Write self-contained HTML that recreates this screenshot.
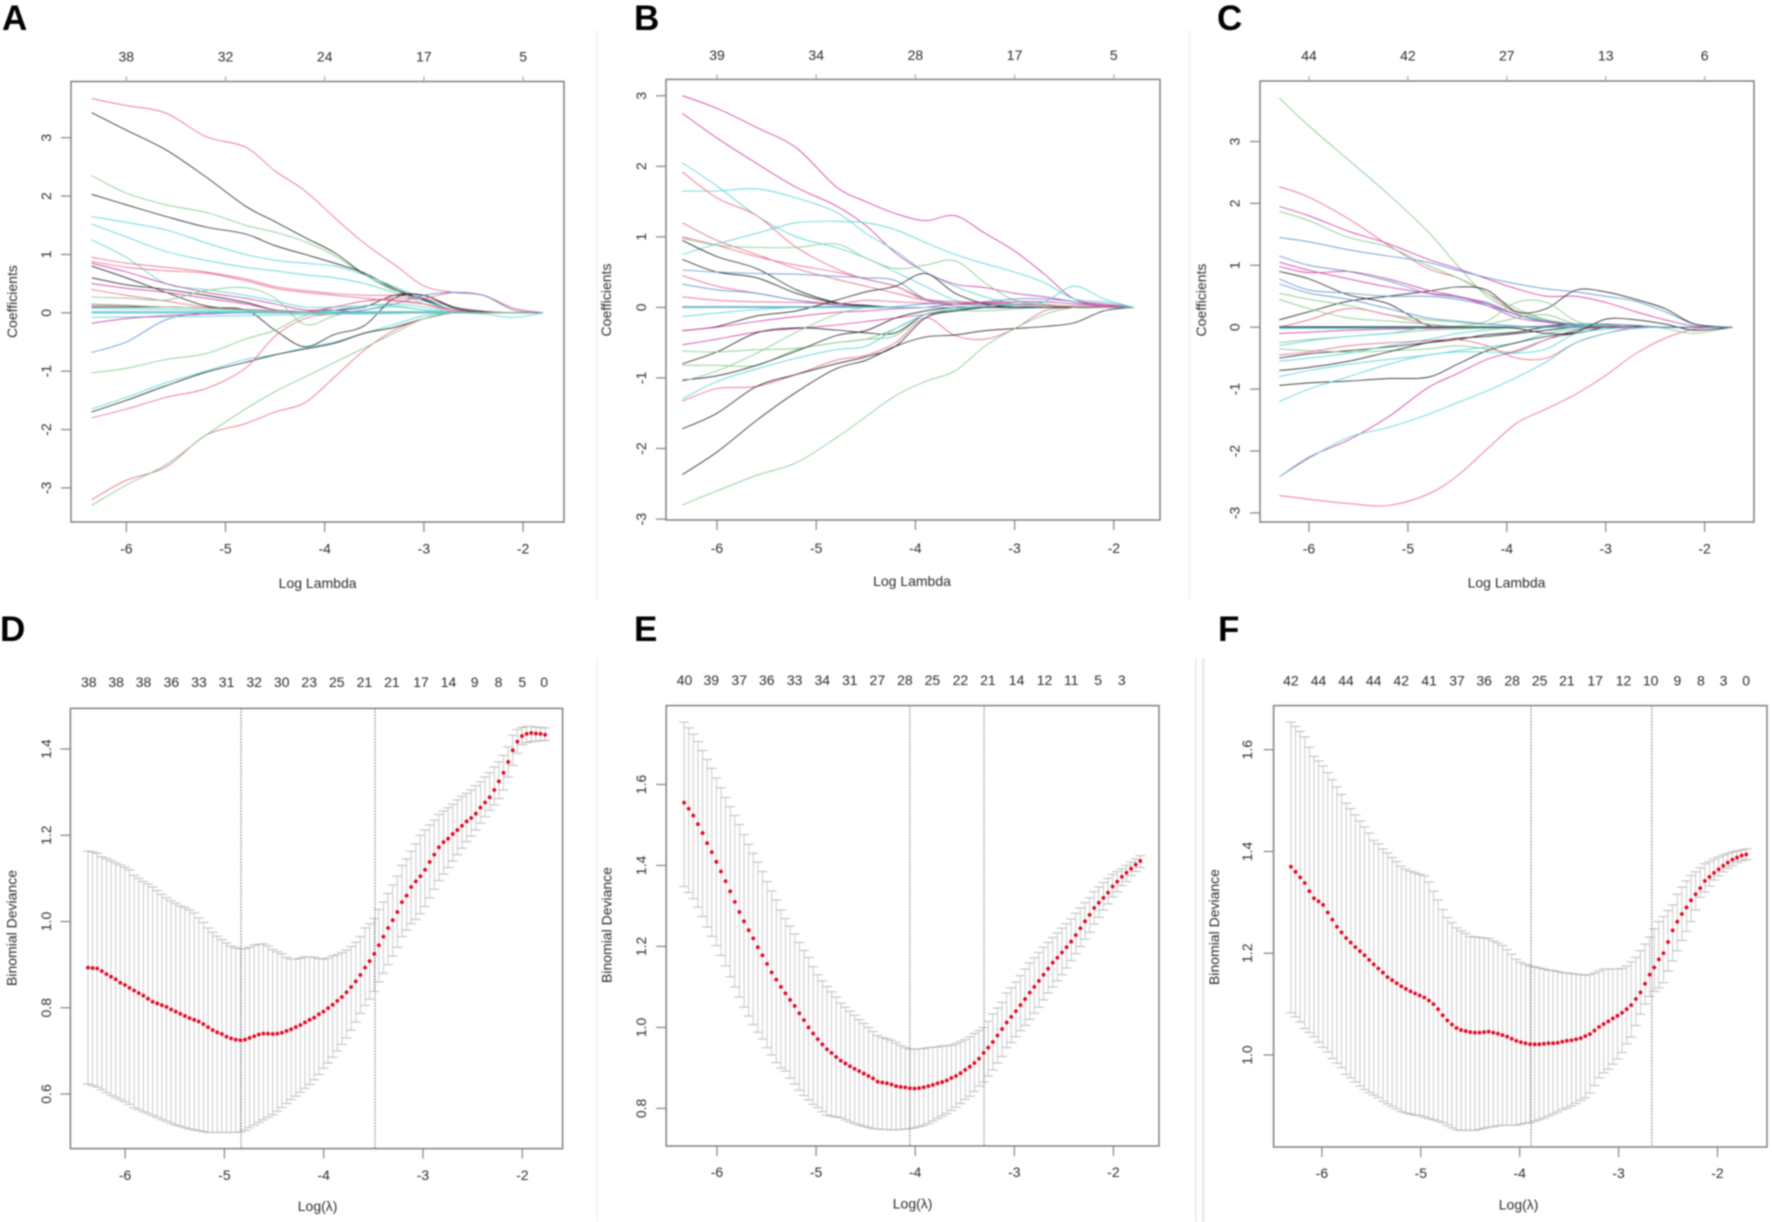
<!DOCTYPE html>
<html lang="en">
<head>
<meta charset="utf-8">
<title>LASSO coefficient paths and cross-validation curves</title>
<style>
html,body{margin:0;padding:0;background:#fff;width:1772px;height:1222px;overflow:hidden}
svg{display:block;filter:blur(.7px)}
text{font-family:"Liberation Sans",Arial,sans-serif;font-size:14px;fill:#2c2c2c;text-anchor:middle;dominant-baseline:central}
text.letter{font-size:35px;font-weight:700;fill:#000;text-anchor:start;dominant-baseline:auto}
</style>
</head>
<body>
<svg id="figure" xmlns="http://www.w3.org/2000/svg" width="1772" height="1222" viewBox="0 0 1772 1222">
  <rect x="0" y="0" width="1772" height="1222" fill="#fff"/>
  <rect x="596.5" y="30" width="1.2" height="570" fill="#eee"/>
  <rect x="1189" y="30" width="1.2" height="570" fill="#eee"/>
  <rect x="596.5" y="658" width="1.2" height="564" fill="#eee"/>
  <rect x="1195" y="658" width="1.5" height="564" fill="#e8e8e8"/>
  <rect x="1202" y="658" width="2.5" height="564" fill="#e8e8e8"/>
  <text class="letter" x="2" y="30">A</text>
  <text class="letter" x="634" y="30">B</text>
  <text class="letter" x="1217" y="30">C</text>
  <text class="letter" x="0" y="641">D</text>
  <text class="letter" x="634" y="641">E</text>
  <text class="letter" x="1218" y="641">F</text>
</svg>
<script>
// ---------- Coefficient path data ----------
const gridAB = [-6.35,-6,-5.6,-5.2,-4.8,-4.5,-4.2,-3.9,-3.6,-3.3,-3,-2.7,-2.4,-2.1,-1.8];
const gridC = [-6.3,-6,-5.6,-5.2,-4.8,-4.5,-4.2,-3.9,-3.6,-3.3,-3,-2.7,-2.4,-2.1,-1.72];
const coefXTicks = [-6,-5,-4,-3,-2];
const coefYTicks = [-3,-2,-1,0,1,2,3];
const topLabelsA = ['38','32','24','17','5'];
const topLabelsB = ['39','34','28','17','5'];
const topLabelsC = ['44','42','27','13','6'];

const seriesA = [
[3.67,3.55,3.42,3.02,2.84,2.43,2.09,1.63,1.19,.83,.46,.35,.3,.08,0],
[3.43,3.13,2.79,2.33,1.83,1.56,1.29,1.03,.66,.39,.23,.05,.01,0,0],
[2.35,2.05,1.85,1.72,1.5,1.38,1.22,.98,.65,.4,.15,.05,0,0,0],
[2.03,1.85,1.65,1.47,1.35,1.15,1,.85,.68,.42,.22,.05,.02,0,0],
[1.65,1.55,1.42,1.2,1,.9,.85,.8,.65,.45,.25,.05,.02,0,0],
[1.52,1.3,1.05,.9,.78,.72,.65,.6,.5,.35,.2,.05,0,0,0],
[1.25,.95,.5,.4,.3,.2,.1,.1,.12,.15,.1,0,0,0,0],
[.95,.85,.78,.7,.58,.45,.38,.33,.3,.3,.25,.1,.03,0,0],
[.88,.78,.72,.68,.55,.42,.35,.3,.25,.2,.15,.05,0,0,0],
[.85,.7,.5,.35,.25,.15,.05,.05,0,0,0,0,0,0,0],
[.8,.6,.35,.12,.05,.03,.02,.05,.1,.3,.3,.1,.02,0,0],
[.6,.48,.4,.3,.18,.05,.02,0,0,0,0,0,0,0,0],
[.5,.42,.35,.25,.15,.05,.02,.01,0,0,0,0,0,0,0],
[.4,.3,.2,.1,.05,.02,0,0,0,0,0,0,0,0,0],
[.27,.25,.22,.38,.43,.25,-.2,-.05,.05,.1,.05,0,0,0,0],
[.1,.1,.1,.08,.05,-.3,-.58,-.37,-.22,.25,.3,.08,0,0,0],
[-.68,-.5,-.12,0,0,0,0,0,0,0,0,0,0,0,0],
[-1.03,-.95,-.8,-.7,-.45,-.3,-.05,0,0,0,0,0,0,0,0],
[-1.65,-1.45,-1.2,-1,-.8,-.72,-.6,-.5,-.35,-.2,-.05,0,0,0,0],
[-1.7,-1.5,-1.25,-1.02,-.85,-.72,-.62,-.52,-.35,-.25,-.1,0,0,0,0],
[-1.8,-1.65,-1.45,-1.3,-.95,-.4,-.1,-.02,0,0,0,0,0,0,0],
[-3.2,-2.87,-2.64,-2.1,-1.9,-1.7,-1.54,-1.1,-.64,-.3,-.1,0,0,0,0],
[-3.3,-2.95,-2.6,-2.1,-1.65,-1.35,-1.1,-.85,-.6,-.35,-.1,0,0,0,0],
[.08,.07,.06,.05,.04,.03,.02,.05,.12,.12,.05,.01,0,0,0],
[-.08,-.07,-.07,-.06,-.05,-.04,-.03,-.02,-.02,-.01,0,0,0,0,0],
[.02,.02,.02,.02,.02,.02,.02,.02,.02,.02,.02,.02,0,0,0],
[-.18,-.1,-.05,-.02,0,0,0,0,0,0,0,0,0,0,0],
[.13,.12,.1,.08,.06,.04,.02,.1,.2,.22,.15,.02,0,0,0],
[.15,.13,.1,.08,.05,.03,.02,.01,0,0,0,0,0,0,0],
[0,0,0,0,0,0,0,.1,.2,.25,.25,.35,.3,.08,0],
[0,0,0,0,0,0,0,0,.05,.15,.3,.35,.3,.05,0],
[0,0,0,0,0,0,0,0,0,0,0,0,-.02,-.08,0]
];
const colorsA = ['r','k','g','k','c','c','c','r','r','m','k','k','m','r','g','k','b','g','c','k','r','r','g','c','c','c','m','r','g','r','b','c'];

const seriesB = [
[3,2.82,2.55,2.26,1.71,1.5,1.33,1.23,1.3,1.05,.8,.47,.12,.05,0],
[2.75,2.4,2.04,1.7,1.44,1.16,.77,.5,.33,.28,.2,.15,.08,.03,0],
[2.05,1.72,1.3,1,.85,.7,.5,.3,.1,.05,.02,0,0,0,0],
[1.65,1.65,1.68,1.55,1.35,1.05,.8,.5,.3,.15,.05,.02,0,0,0],
[.75,.9,1.05,1.2,1.22,1.2,1.1,.92,.75,.62,.5,.35,.12,.08,0],
[1.92,1.55,1.3,.85,.55,.4,.3,.1,.02,0,0,0,0,0,0],
[1.2,.95,.75,.55,.4,.3,.2,.1,.08,.06,.05,.03,0,0,0],
[1,.88,.72,.6,.5,.4,.3,.12,.08,.07,.05,.03,.01,0,0],
[.98,.88,.85,.85,.9,.7,.55,.6,.66,.35,.1,.05,0,0,0],
[.95,.72,.55,.25,.07,.03,0,0,0,0,0,0,0,0,0],
[.68,.5,.42,.2,.06,.02,0,0,0,0,0,0,0,0,0],
[.53,.5,.48,.47,.44,.42,.38,.12,.05,.03,.02,0,0,0,0],
[.45,.3,.2,.1,.05,0,0,0,0,0,0,0,0,0,0],
[.33,.25,.2,.1,.03,0,0,0,0,0,0,0,0,0,0],
[.15,.1,.08,.07,.05,.1,.08,.06,.05,.05,.04,.03,.02,.01,0],
[0,0,0,0,0,0,0,0,0,0,0,0,0,0,0],
[.01,.01,.01,.01,.01,.01,.01,.05,.05,.08,.12,.12,.08,0,0],
[-.13,-.08,-.03,0,0,0,0,0,0,0,0,0,0,0,0],
[-.33,-.27,-.12,-.05,.1,.22,.3,.48,.2,.05,0,0,0,0,0],
[-.33,-.28,-.2,-.13,-.07,-.05,-.02,0,.05,.07,.08,.08,.05,.02,0],
[-.53,-.45,-.35,-.3,-.25,-.2,-.15,-.1,-.05,0,0,0,0,0,0],
[-.8,-.63,-.36,-.29,-.32,-.36,-.36,-.1,-.05,0,0,0,0,0,0],
[-.62,-.63,-.6,-.58,-.5,-.45,-.4,-.1,-.05,-.05,-.02,0,0,0,0],
[-.82,-.82,-.82,-.6,-.5,-.45,-.3,-.1,-.02,0,0,0,0,0,0],
[-1.03,-.97,-.82,-.62,-.4,-.33,-.15,-.05,0,0,0,0,0,0,0],
[-1.05,-.9,-.65,-.35,-.1,0,0,0,0,0,0,0,0,0,0],
[-1.3,-1.05,-.87,-.72,-.6,-.55,-.3,-.1,-.03,0,0,0,0,0,0],
[-1.33,-1.15,-1.12,-.95,-.75,-.68,-.5,-.15,-.4,-.45,-.3,-.05,0,0,0],
[-1.72,-1.5,-1.12,-.95,-.8,-.7,-.55,-.15,-.05,0,0,0,0,0,0],
[-2.37,-2.05,-1.6,-1.2,-.87,-.75,-.55,-.42,-.39,-.33,-.3,-.27,-.22,-.05,0],
[-2.8,-2.6,-2.38,-2.2,-1.85,-1.55,-1.25,-1.05,-.9,-.55,-.3,-.1,0,0,0],
[0,0,0,0,0,0,0,0,0,.02,.05,.08,.3,.12,0]
];
const colorsB = ['m','m','c','c','c','r','r','r','g','k','k','b','r','b','r','m','b','c','k','m','m','k','g','g','k','g','c','r','k','k','g','c'];

const seriesC = [
[3.7,3.25,2.7,2.15,1.55,1,.5,.25,.12,.05,.02,0,0,0,0],
[2.27,2.1,1.75,1.33,.95,.8,.55,.22,.1,.03,0,0,0,0,0],
[1.95,1.8,1.55,1.35,1.1,.95,.78,.62,.5,.5,.4,.25,.12,.02,0],
[1.87,1.72,1.45,1.3,1,.8,.55,.3,.12,.03,0,0,0,0,0],
[1.45,1.38,1.25,1.15,1.05,.92,.8,.7,.62,.57,.5,.42,.25,.05,0],
[.12,.25,.42,.5,.58,.65,.6,.25,.3,.6,.57,.45,.3,.05,0],
[1.15,1,.9,.75,.55,.48,.4,.2,.08,.03,0,0,0,0,0],
[1.05,.92,.78,.65,.55,.5,.38,.2,.1,.04,0,0,0,0,0],
[.98,.88,.9,.78,.6,.5,.35,.15,.08,.02,0,0,0,0,0],
[.9,.78,.52,.38,.03,0,0,0,.02,.05,.05,.02,0,0,0],
[.78,.6,.55,.5,.5,.45,.35,.2,.1,.03,0,0,0,0,0],
[.55,.45,.35,.2,.12,.08,.05,.15,.2,.05,0,0,0,0,0],
[0,.12,.3,.2,.05,0,0,0,0,.05,.03,0,0,0,0],
[.45,.3,.15,.1,.05,.02,.1,.4,.4,.1,0,0,0,0,0],
[0,0,0,0,0,0,0,0,0,0,0,0,0,0,0],
[.01,.01,.01,.01,.01,.01,.01,.01,.01,.01,.01,0,0,0,0],
[-.02,-.02,-.02,-.02,-.02,-.01,-.01,0,0,.04,.04,.03,0,0,0],
[-.1,-.08,-.05,-.03,-.02,-.01,0,0,0,0,0,0,0,0,0],
[-.25,-.2,-.15,-.1,-.05,-.03,-.02,0,0,0,0,0,0,0,0],
[-.3,-.22,-.15,-.1,0,0,0,0,0,0,0,0,0,0,0],
[-.5,-.43,-.38,-.32,-.25,-.2,-.12,-.08,0,0,0,0,0,0,0],
[-.35,-.38,-.4,-.38,-.35,-.3,-.35,-.4,-.2,-.1,-.03,0,0,0,0],
[-.55,-.5,-.42,-.3,-.2,-.1,-.05,0,0,0,0,0,0,0,0],
[-.7,-.65,-.55,-.4,-.25,-.18,-.15,-.1,-.05,0,0,0,0,0,0],
[-.45,-.4,-.3,-.25,-.22,-.2,-.3,-.5,-.5,-.25,-.1,0,0,0,0],
[-.8,-.7,-.6,-.52,-.45,-.38,-.32,-.25,-.1,-.03,0,0,0,0,0],
[-.94,-.9,-.87,-.83,-.81,-.6,-.38,-.25,-.15,-.1,0,0,0,0,0],
[-1.2,-1,-.8,-.6,-.45,-.4,-.4,-.42,-.35,-.1,-.03,0,0,0,0],
[-2.42,-2.1,-1.82,-1.45,-.98,-.75,-.52,-.38,-.2,-.05,0,0,0,0,0],
[-2.42,-2.12,-1.78,-1.62,-1.41,-1.22,-1.03,-.81,-.56,-.25,-.1,-.02,0,0,0],
[-2.72,-2.78,-2.85,-2.88,-2.7,-2.4,-1.97,-1.55,-1.32,-1.08,-.78,-.43,-.18,-.03,0],
[0,0,0,0,0,0,0,0,0,0,.03,.03,-.02,-.1,0],
[0,0,0,0,0,0,0,-.02,-.1,-.08,.13,.12,.05,-.05,0],
[.7,.55,.45,.3,.15,.1,.05,.02,0,.05,.05,.03,0,0,0]
];
const colorsC = ['g','r','m','g','b','k','b','m','m','k','b','g','r','g','k','b','c','m','g','c','k','g','c','k','r','c','k','c','m','c','r','g','k','b'];

// ---------- Cross-validation data ----------
const cvXTicks = [-6,-5,-4,-3,-2];
const cvYTicksD = [.6,.8,1,1.2,1.4];
const cvYTicksE = [.8,1,1.2,1.4,1.6];
const cvYTicksF = [1,1.2,1.4,1.6];

const meanD = [
.893,.892,.891,.885,.878,.872,.866,.858,.853,.846,
.840,.834,.828,.821,.814,.810,.806,.802,.796,.791,
.786,.781,.776,.772,.768,.762,.755,.748,.743,.739,
.733,.729,.726,.725,.726,.730,.734,.738,.740,.740,
.739,.740,.742,.746,.750,.755,.760,.766,.772,.777,
.785,.791,.799,.807,.816,.825,.836,.848,.861,.876,
.893,.908,.925,.945,.965,.985,1.003,1.022,1.045,1.060,
1.080,1.093,1.105,1.120,1.138,1.155,1.172,1.184,1.192,1.203,
1.212,1.222,1.232,1.240,1.250,1.264,1.276,1.288,1.305,1.325,
1.345,1.370,1.397,1.417,1.430,1.435,1.437,1.436,1.435,1.433];
const upperD = [
1.163,1.161,1.158,1.150,1.146,1.141,1.136,1.131,1.126,1.120,
1.107,1.100,1.093,1.087,1.080,1.072,1.063,1.055,1.048,1.042,
1.036,1.032,1.027,1.020,1.008,.998,.985,.975,.966,.958,
.950,.943,.939,.937,.937,.940,.945,.947,.948,.943,
.935,.930,.925,.917,.913,.913,.915,.918,.918,.917,
.914,.913,.915,.920,.923,.928,.934,.942,.952,.965,
.985,.995,1.007,1.028,1.045,1.065,1.085,1.105,1.130,1.145,
1.163,1.180,1.200,1.212,1.224,1.235,1.248,1.256,1.264,1.272,
1.282,1.290,1.297,1.305,1.315,1.324,1.335,1.345,1.358,1.370,
1.385,1.405,1.432,1.445,1.450,1.452,1.452,1.451,1.450,1.449];
const lowerD = [
.623,.620,.616,.610,.603,.597,.592,.587,.582,.576,
.568,.564,.559,.555,.550,.546,.541,.537,.532,.528,
.525,.522,.519,.517,.515,.513,.511,.511,.511,.511,
.511,.511,.511,.512,.516,.522,.528,.534,.540,.546,
.552,.560,.569,.578,.587,.595,.604,.613,.622,.633,
.645,.660,.672,.685,.700,.715,.730,.748,.767,.787,
.805,.820,.838,.860,.880,.900,.920,.940,.965,.980,
.995,1.005,1.018,1.035,1.055,1.075,1.095,1.110,1.125,1.140,
1.155,1.170,1.185,1.198,1.212,1.228,1.243,1.258,1.270,1.285,
1.305,1.335,1.362,1.390,1.410,1.415,1.417,1.418,1.419,1.420];

const meanE = [
1.555,1.540,1.523,1.502,1.480,1.455,1.433,1.409,1.385,1.361,
1.336,1.310,1.285,1.262,1.240,1.220,1.198,1.178,1.157,1.136,
1.118,1.100,1.084,1.068,1.053,1.035,1.018,1.000,.985,.971,
.958,.946,.937,.927,.918,.911,.904,.898,.892,.886,
.880,.874,.866,.864,.862,.859,.855,.853,.852,.850,
.849,.850,.852,.855,.858,.862,.865,.869,.875,.880,
.887,.895,.903,.912,.923,.937,.950,.964,.980,.996,
1.012,1.026,1.040,1.055,1.070,1.086,1.100,1.115,1.130,1.145,
1.160,1.172,1.185,1.198,1.212,1.228,1.245,1.262,1.278,1.295,
1.308,1.320,1.333,1.348,1.360,1.372,1.382,1.392,1.402,1.411];
const upperE = [
1.754,1.740,1.724,1.706,1.684,1.662,1.640,1.616,1.592,1.568,
1.545,1.523,1.501,1.476,1.452,1.430,1.408,1.385,1.360,1.337,
1.315,1.290,1.269,1.250,1.231,1.210,1.190,1.173,1.150,1.130,
1.115,1.101,1.088,1.075,1.060,1.050,1.040,1.030,1.019,1.010,
1.000,.990,.980,.975,.972,.968,.962,.955,.950,.947,
.946,.947,.948,.950,.951,.952,.954,.955,.956,.960,
.965,.970,.977,.985,.992,1.000,1.015,1.033,1.048,1.062,
1.085,1.098,1.112,1.128,1.144,1.159,1.172,1.185,1.198,1.210,
1.222,1.233,1.245,1.256,1.268,1.282,1.295,1.308,1.320,1.335,
1.347,1.358,1.368,1.378,1.385,1.392,1.400,1.408,1.416,1.424];
const lowerE = [
1.348,1.333,1.318,1.297,1.274,1.248,1.225,1.202,1.178,1.152,
1.125,1.100,1.075,1.050,1.028,1.007,.988,.971,.950,.932,
.913,.900,.892,.875,.860,.845,.832,.821,.810,.802,
.792,.783,.781,.779,.777,.772,.767,.763,.759,.756,
.753,.750,.749,.748,.748,.747,.747,.748,.749,.750,
.752,.755,.758,.763,.769,.775,.781,.787,.795,.803,
.812,.822,.830,.842,.855,.865,.880,.895,.912,.928,
.950,.963,.977,.992,1.005,1.020,1.035,1.050,1.068,1.085,
1.100,1.115,1.130,1.147,1.165,1.182,1.200,1.218,1.235,1.255,
1.272,1.290,1.305,1.322,1.335,1.350,1.360,1.375,1.385,1.395];

const meanF = [
1.370,1.360,1.349,1.338,1.322,1.308,1.302,1.295,1.280,1.266,
1.252,1.241,1.230,1.221,1.212,1.204,1.196,1.187,1.178,1.170,
1.162,1.153,1.147,1.141,1.135,1.130,1.125,1.121,1.117,1.113,
1.107,1.100,1.090,1.078,1.068,1.060,1.053,1.049,1.047,1.045,
1.044,1.044,1.045,1.046,1.044,1.042,1.039,1.036,1.032,1.028,
1.025,1.023,1.021,1.021,1.021,1.022,1.023,1.023,1.024,1.026,
1.028,1.029,1.031,1.033,1.037,1.041,1.048,1.055,1.061,1.066,
1.072,1.077,1.083,1.090,1.098,1.110,1.123,1.140,1.158,1.172,
1.188,1.200,1.222,1.245,1.262,1.277,1.290,1.304,1.316,1.328,
1.342,1.350,1.358,1.365,1.372,1.378,1.384,1.388,1.392,1.394];
const upperF = [
1.654,1.646,1.636,1.625,1.605,1.587,1.578,1.568,1.555,1.541,
1.527,1.512,1.495,1.484,1.472,1.460,1.448,1.436,1.422,1.415,
1.405,1.397,1.388,1.380,1.371,1.365,1.361,1.358,1.355,1.352,
1.340,1.322,1.305,1.286,1.270,1.260,1.250,1.244,1.239,1.233,
1.232,1.231,1.230,1.229,1.224,1.220,1.215,1.207,1.198,1.188,
1.182,1.178,1.175,1.173,1.171,1.169,1.167,1.166,1.164,1.162,
1.161,1.160,1.159,1.158,1.157,1.158,1.161,1.165,1.169,1.169,
1.169,1.169,1.170,1.175,1.183,1.192,1.205,1.218,1.232,1.248,
1.262,1.272,1.284,1.295,1.316,1.330,1.342,1.353,1.360,1.368,
1.376,1.380,1.385,1.389,1.393,1.396,1.399,1.401,1.403,1.405];
const lowerF = [
1.083,1.075,1.065,1.052,1.044,1.036,1.025,1.015,1.006,.993,
.984,.975,.962,.955,.947,.939,.932,.926,.921,.916,
.909,.904,.899,.894,.889,.886,.884,.882,.881,.878,
.875,.873,.870,.867,.862,.857,.853,.852,.852,.852,
.852,.854,.856,.858,.859,.861,.862,.862,.862,.862,
.864,.866,.867,.870,.873,.876,.880,.884,.888,.893,
.896,.900,.905,.911,.916,.925,.940,.955,.965,.972,
.982,.992,1.005,1.022,1.035,1.058,1.080,1.100,1.115,1.125,
1.132,1.142,1.165,1.185,1.205,1.225,1.243,1.262,1.285,1.310,
1.320,1.332,1.344,1.352,1.360,1.367,1.372,1.378,1.382,1.384];

const topLogD = [-6.366,-6.09,-5.815,-5.534,-5.256,-4.978,-4.7,-4.423,-4.146,-3.868,-3.59,-3.313,-3.02,-2.743,-2.48,-2.24,-2,-1.78];
const topNumD = ['38','38','38','36','33','31','32','30','23','25','21','21','17','14','9','8','5','0'];
const topLogE = [-6.328,-6.058,-5.776,-5.498,-5.216,-4.938,-4.66,-4.382,-4.104,-3.826,-3.544,-3.266,-2.977,-2.695,-2.425,-2.154,-1.915];
const topNumE = ['40','39','37','36','33','34','31','27','28','25','22','21','14','12','11','5','3'];
const topLogF = [-6.313,-6.034,-5.756,-5.477,-5.198,-4.916,-4.634,-4.359,-4.076,-3.798,-3.523,-3.237,-2.95,-2.676,-2.405,-2.168,-1.939,-1.71];
const topNumF = ['42','44','44','44','42','41','37','36','28','25','21','17','12','10','9','8','3','0'];
const lambdaLinesD = [-4.832,-3.483];
const lambdaLinesE = [-4.054,-3.305];
const lambdaLinesF = [-3.885,-2.664];
const lambdaStartD = -6.374, lambdaStartE = -6.332, lambdaStartF = -6.313;
const lambdaStep = 0.0465;

// ---------- Rendering ----------
const svg = document.getElementById('figure');
const NS = 'http://www.w3.org/2000/svg';
const palette = {k:'#2a2a2a',r:'#e8688c',g:'#82c98a',b:'#5d93cf',c:'#58d2d6',m:'#cf3fa6'};

function el(tag, attrs, parent, txt){
  const e = document.createElementNS(NS, tag);
  for (const k in attrs) e.setAttribute(k, attrs[k]);
  if (txt !== undefined) e.textContent = txt;
  parent.appendChild(e);
  return e;
}
function smooth(pts){
  let d = 'M' + pts[0][0].toFixed(1) + ' ' + pts[0][1].toFixed(1);
  for (let i = 0; i < pts.length - 1; i++){
    const p0 = pts[Math.max(i-1,0)], p1 = pts[i], p2 = pts[i+1], p3 = pts[Math.min(i+2,pts.length-1)];
    const c1x = p1[0] + (p2[0]-p0[0])/6, c1y = p1[1] + (p2[1]-p0[1])/6;
    const c2x = p2[0] - (p3[0]-p1[0])/6, c2y = p2[1] - (p3[1]-p1[1])/6;
    d += 'C' + c1x.toFixed(1) + ' ' + c1y.toFixed(1) + ' ' + c2x.toFixed(1) + ' ' + c2y.toFixed(1) + ' ' + p2[0].toFixed(1) + ' ' + p2[1].toFixed(1);
  }
  return d;
}
function frame(g, c, sx, sy, xTicks, yTicks, yFmt, xTitle, yTitle){
  const box = el('rect', {x:c.left,y:c.top,width:c.right-c.left,height:c.bottom-c.top,fill:'none',stroke:'#777','stroke-width':1.4}, g);
  
  
  xTicks.forEach(v => {
    const t = el('line', {x1:sx(v),x2:sx(v),y1:c.bottom,y2:c.bottom+10,stroke:'#777','stroke-width':1.1}, g);
    
    
    const l = el('text', {x:sx(v),y:c.xLabelY}, g, String(v));
    
    
  });
  yTicks.forEach(v => {
    const t = el('line', {x1:c.left-10,x2:c.left,y1:sy(v),y2:sy(v),stroke:'#777','stroke-width':1.1}, g);
    
    
    const l = el('text', {x:c.yLabelX,y:sy(v),transform:'rotate(-90 '+c.yLabelX+' '+sy(v)+')'}, g, yFmt(v));
    
    
  });
  const xt = el('text', {x:c.xTitleX,y:c.xTitleY}, g, xTitle);
  
  
  const yt = el('text', {x:c.yTitleX,y:c.yTitleY,transform:'rotate(-90 '+c.yTitleX+' '+c.yTitleY+')'}, g, yTitle);
  
  
}
function drawCoef(name, c, grid, series, colors, topLabels){
  const g = el('g', {}, svg);
  
  
  const sx = v => c.x6 + (v + 6) * c.xUnit;
  const sy = v => c.y0 - v * c.yUnit;
  series.forEach((vals, i) => {
    const pts = vals.map((v, j) => [sx(grid[j]), sy(v)]);
    const p = el('path', {d:smooth(pts),fill:'none',stroke:palette[colors[i]],'stroke-width':.85,'stroke-linejoin':'round'}, g);
    
    
  });
  frame(g, c, sx, sy, coefXTicks, coefYTicks, v => String(v), 'Log Lambda', 'Coefficients');
  coefXTicks.forEach((v, i) => {
    const t = el('line', {x1:sx(v),x2:sx(v),y1:c.top-5,y2:c.top,stroke:'#999','stroke-width':1}, g);
    
    
    const l = el('text', {x:sx(v),y:c.topLabelY}, g, topLabels[i]);
    
    
  });
}
function drawCv(name, c, start, mean, upper, lower, yTicks, topLog, topNum, lambdaLines){
  const g = el('g', {}, svg);
  
  
  const sx = v => c.x6 + (v + 6) * c.xUnit;
  const sy = v => c.refPx - (v - c.refVal) * c.yUnit;
  mean.forEach((m, i) => {
    const v = start + i * lambdaStep, x = sx(v);
    const b = el('line', {x1:x,x2:x,y1:sy(upper[i]),y2:sy(lower[i]),stroke:'#c4c4c4','stroke-width':.9}, g);
    
    
    const u = el('line', {x1:x-5,x2:x+5,y1:sy(upper[i]),y2:sy(upper[i]),stroke:'#b4b4b4','stroke-width':.9}, g);
    
    
    const d = el('line', {x1:x-5,x2:x+5,y1:sy(lower[i]),y2:sy(lower[i]),stroke:'#b4b4b4','stroke-width':.9}, g);
    
    
  });
  lambdaLines.forEach(v => {
    const l = el('line', {x1:sx(v),x2:sx(v),y1:c.top,y2:c.bottom,stroke:'#666','stroke-width':1,'stroke-dasharray':'1.5 1.5'}, g);
    
    
  });
  mean.forEach((m, i) => {
    const v = start + i * lambdaStep;
    const dot = el('circle', {cx:sx(v),cy:sy(m),r:1.9,fill:'#e0001f'}, g);
    
    
  });
  frame(g, c, sx, sy, cvXTicks, yTicks, v => v.toFixed(1), 'Log(\u03BB)', 'Binomial Deviance');
  topLog.forEach((v, i) => {
    const l = el('text', {x:sx(v),y:c.topLabelY}, g, topNum[i]);
    
    
  });
}

drawCoef('coefficient-panel-a', {left:71,right:564,top:81.5,bottom:522,x6:126.3,xUnit:99.2,y0:312.8,yUnit:58.37,xLabelY:548.6,yLabelX:46,xTitleX:317.6,xTitleY:582.9,yTitleX:12.2,yTitleY:301.6,topLabelY:56.4}, gridAB, seriesA, colorsA, topLabelsA);
drawCoef('coefficient-panel-b', {left:666,right:1160,top:79.4,bottom:520,x6:717,xUnit:99.2,y0:307.4,yUnit:70.56,xLabelY:547.9,yLabelX:641,xTitleX:912,xTitleY:581,yTitleX:606,yTitleY:300,topLabelY:54.9}, gridAB, seriesB, colorsB, topLabelsB);
drawCoef('coefficient-panel-c', {left:1260,right:1754,top:81,bottom:522,x6:1309,xUnit:98.9,y0:327.2,yUnit:61.9,xLabelY:548.6,yLabelX:1234.7,xTitleX:1506.5,xTitleY:582.5,yTitleX:1200.8,yTitleY:300,topLabelY:55.6}, gridC, seriesC, colorsC, topLabelsC);
drawCv('deviance-panel-d', {left:70.4,right:562.6,top:708.4,bottom:1148.6,x6:125.1,xUnit:99.3,refVal:.6,refPx:1094,yUnit:431.25,xLabelY:1174.8,yLabelX:46,xTitleX:317.6,xTitleY:1206,yTitleX:11.5,yTitleY:928,topLabelY:682.2}, lambdaStartD, meanD, upperD, lowerD, cvYTicksD, topLogD, topNumD, lambdaLinesD);
drawCv('deviance-panel-e', {left:666.2,right:1159,top:705.6,bottom:1146,x6:717,xUnit:99.1,refVal:.8,refPx:1108.4,yUnit:404.9,xLabelY:1172,yLabelX:641,xTitleX:912.6,xTitleY:1203.7,yTitleX:606.5,yTitleY:925,topLabelY:679.9}, lambdaStartE, meanE, upperE, lowerE, cvYTicksE, topLogE, topNumE, lambdaLinesE);
drawCv('deviance-panel-f', {left:1273.6,right:1767,top:705.6,bottom:1147,x6:1321.9,xUnit:98.9,refVal:1,refPx:1055,yUnit:508.8,xLabelY:1172.8,yLabelX:1247.2,xTitleX:1518.6,xTitleY:1204.4,yTitleX:1214,yTitleY:927,topLabelY:680.6}, lambdaStartF, meanF, upperF, lowerF, cvYTicksF, topLogF, topNumF, lambdaLinesF);
</script>
</body>
</html>
